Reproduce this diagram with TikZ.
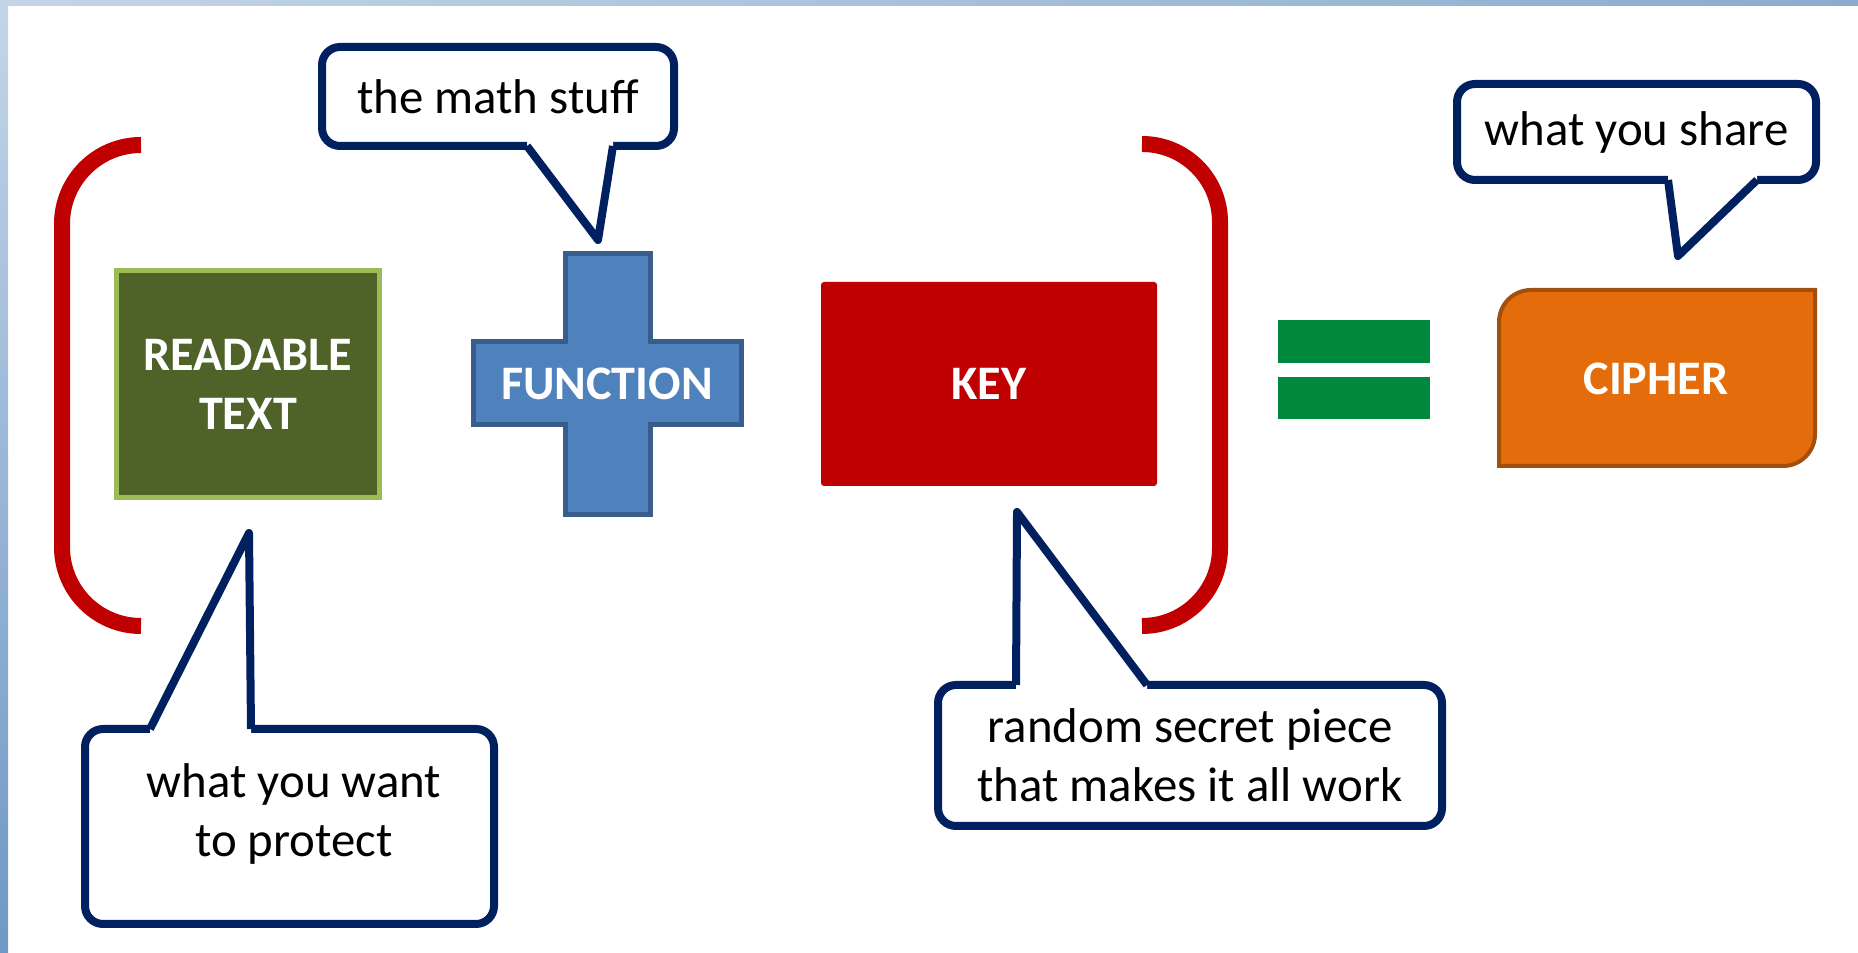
\documentclass[tikz,border=0pt]{standalone}
\usepackage{fontspec}
\setmainfont{Carlito}
\usetikzlibrary{calc}
\definecolor{navy}{RGB}{0,32,96}
\definecolor{bracketred}{RGB}{192,0,0}
\definecolor{keyred}{RGB}{192,0,0}
\definecolor{readgreen}{RGB}{79,98,40}
\definecolor{readgreen-border}{RGB}{155,187,89}
\definecolor{funcblue}{RGB}{79,129,189}
\definecolor{funcblue-border}{RGB}{56,93,138}
\definecolor{eqgreen}{RGB}{0,137,60}
\definecolor{cipherorange}{RGB}{228,108,10}
\definecolor{cipherorange-border}{RGB}{160,80,12}
\definecolor{framelight}{RGB}{196,213,232}
\definecolor{framemid}{RGB}{138,172,206}
\definecolor{framedark}{RGB}{111,152,196}

\begin{document}
\begin{tikzpicture}[x=0.1mm, y=0.1mm,
    bigbox/.style={text=white, font=\bfseries\fontsize{13.7}{16.8}\selectfont, align=center, inner sep=0pt},
    callout/.style={draw=navy, fill=white, line width=0.8mm, rounded corners=1.8mm, font=\fontsize{13.9}{16.8}\selectfont, align=center, inner sep=0pt},
    say/.style={font=\fontsize{13.9}{16.8}\selectfont, align=center, inner sep=0pt},
    tail/.style={draw=navy, line width=0.8mm, line join=round},
    bracket/.style={draw=bracketred, line width=1.6mm}]

    \useasboundingbox (0,0) rectangle (1858,-953);

    % slide frame
    \shade[left color=framelight, right color=framemid] (0,0) rectangle (1858,-6);
    \shade[top color=framelight, bottom color=framedark] (0,0) rectangle (8,-953);

    % brackets
    \draw[bracket] (141,-145) arc[start angle=90, end angle=180, radius=7.9mm] -- (62,-547) arc[start angle=180, end angle=270, radius=7.9mm];
    \draw[bracket] (1142,-144) arc[start angle=90, end angle=0, radius=7.8mm] -- (1220,-548) arc[start angle=0, end angle=-90, radius=7.8mm];

    % readable text
    \node[bigbox, fill=readgreen, draw=readgreen-border, line width=0.5mm, minimum width=26.3mm, minimum height=22.7mm] (readable) at (248,-384) {READABLE\\TEXT};

    % function cross
    \filldraw[fill=funcblue, draw=funcblue-border, line width=0.5mm] (565,-254) -- (650,-254) -- (650,-342) -- (741,-342) -- (741,-425) -- (650,-425) -- (650,-515) -- (565,-515) -- (565,-425) -- (473,-425) -- (473,-342) -- (565,-342) -- cycle;
    \node[bigbox] (function) at (607,-384) {FUNCTION};

    % key
    \node[bigbox, fill=keyred, rounded corners=0.3mm, minimum width=33.6mm, minimum height=20.4mm] (key) at (989,-384) {KEY};

    % equals
    \fill[eqgreen] (1278,-320) rectangle (1430,-363);
    \fill[eqgreen] (1278,-377) rectangle (1430,-419);

    % cipher
    \filldraw[fill=cipherorange, draw=cipherorange-border, line width=0.4mm] (1499,-466) -- (1499,-322) arc[start angle=180, end angle=90, radius=3.2mm] -- (1815,-290) -- (1815,-434) arc[start angle=0, end angle=-90, radius=3.2mm] -- cycle;
    \node[bigbox] (cipher) at (1656,-379) {CIPHER};

    % callouts
    \node[callout, minimum width=35.2mm, minimum height=9.9mm] (math) at (498,-96.5) {the math stuff};
    \coordinate (math-a) at (527,-146);
    \coordinate (math-b) at (613,-146);
    \coordinate (math-tip) at (598,-240);

    \node[callout, minimum width=35.9mm, minimum height=9.6mm] (share) at (1636.5,-132) {what you share};
    \coordinate (share-a) at (1668,-180);
    \coordinate (share-b) at (1757,-180);
    \coordinate (share-tip) at (1678,-256);

    \node[callout, minimum width=40.9mm, minimum height=19.5mm] (protect) at (289.5,-826.5) {};
    \node[say] (protect-text) at (294,-814) {what you want\\to protect};
    \coordinate (protect-a) at (150,-729);
    \coordinate (protect-b) at (251,-729);
    \coordinate (protect-tip) at (249,-533);

    \node[callout, minimum width=50.4mm, minimum height=14.1mm] (secret) at (1190,-755.5) {random secret piece\\that makes it all work};
    \coordinate (secret-a) at (1016,-685);
    \coordinate (secret-b) at (1147,-685);
    \coordinate (secret-tip) at (1017,-512);

    \foreach \a/\tip/\b/\dy in {math-a/math-tip/math-b/6, share-a/share-tip/share-b/6, protect-a/protect-tip/protect-b/-6, secret-a/secret-tip/secret-b/-6} {
        \fill[white] ($(\a)+(0,\dy)$) -- (\a) -- (\tip) -- (\b) -- ($(\b)+(0,\dy)$) -- cycle;
        \draw[tail] (\a) -- (\tip) -- (\b);
    }

\end{tikzpicture}
\end{document}
